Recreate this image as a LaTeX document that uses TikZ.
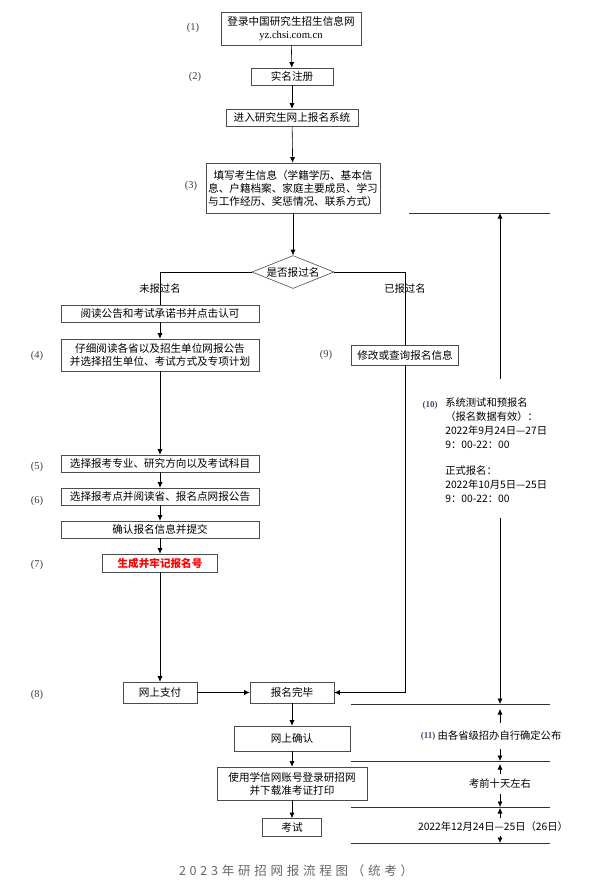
\documentclass[tikz,border=0pt]{standalone}
\usepackage{fontspec}
\setmainfont{Noto Sans CJK SC}
\newfontfamily\numfont{Liberation Serif}
\newfontfamily\capfont[LetterSpace=30]{Noto Sans CJK SC}
\usetikzlibrary{shapes.geometric, arrows.meta}

\definecolor{numgray}{HTML}{404040}
\definecolor{numblue}{HTML}{3A4A6B}

\begin{document}
\begin{tikzpicture}[x=1pt, y=-1pt, line width=0.6pt, >={Latex[length=5.5pt,width=5pt]},
  box/.style={draw=black!70, minimum height=17pt, inner sep=0pt, align=center, font=\fontsize{10.6}{13}\selectfont},
  num/.style={font=\numfont\fontsize{10.5}{12}\selectfont, text=numgray},
  note/.style={inner sep=0pt, font=\fontsize{10.3}{14}\selectfont}]

\useasboundingbox (0,0) rectangle (593,888);

\node[box, minimum width=140pt, minimum height=33pt] (login) at (291,28.5) {登录中国研究生招生信息网\\{\numfont yz.chsi.com.cn}};
\node[box, minimum width=82pt] (realname) at (292,76.5) {实名注册};
\node[box, minimum width=132pt] (system) at (292,117.5) {进入研究生网上报名系统};
\node[box, minimum width=174pt, minimum height=50pt] (info) at (293,188) {填写考生信息（学籍学历、基本信\\息、户籍档案、家庭主要成员、学习\\与工作经历、奖惩情况、联系方式）};

\node[draw=black!70, diamond, aspect=2.5, minimum width=82pt, minimum height=33pt, inner sep=0pt, font=\fontsize{10.6}{13}\selectfont] (applied) at (293,272) {是否报过名};

%left branch
\node[box, minimum width=198pt] (notice) at (160,313.5) {阅读公告和考试承诺书并点击认可};
\node[box, minimum width=198pt, minimum height=32pt] (unit) at (160,355) {仔细阅读各省以及招生单位网报公告\\并选择招生单位、考试方式及专项计划};
\node[box, minimum width=198pt] (major) at (160,463.5) {选择报考专业、研究方向以及考试科目};
\node[box, minimum width=198pt] (site) at (160,496.5) {选择报考点并阅读省、报名点网报公告};
\node[box, minimum width=198pt] (submit) at (160,529.5) {确认报名信息并提交};
\node[box, minimum width=115pt, minimum height=18pt, text=red, font=\fontsize{10.6}{13}\selectfont\bfseries] (regno) at (160,563) {生成并牢记报名号};

%right branch
\node[box, minimum width=107pt, minimum height=20pt] (modify) at (405,355) {修改或查询报名信息};

\node[box, minimum width=74pt, minimum height=21pt] (pay) at (160,692.5) {网上支付};
\node[box, minimum width=84pt, minimum height=21pt] (done) at (292,692.5) {报名完毕};
\node[box, minimum width=116pt, minimum height=25pt] (confirm) at (292,738.5) {网上确认};
\node[box, minimum width=150pt, minimum height=33pt] (ticket) at (292,783.5) {使用学信网账号登录研招网\\并下载准考证打印};
\node[box, minimum width=59pt, minimum height=18pt] (exam) at (292,827.5) {考试};

%step numbers
\node[num] (n1) at (193,28) {(1)};
\node[num] (n2) at (195,77) {(2)};
\node[num] (n3) at (191,186) {(3)};
\node[num] (n4) at (37,356) {(4)};
\node[num] (n5) at (37,467) {(5)};
\node[num] (n6) at (37,501) {(6)};
\node[num] (n7) at (37,565) {(7)};
\node[num] (n8) at (37,695) {(8)};
\node[num] (n9) at (326,355) {(9)};

\draw[->] (login) -- (realname);
\draw[->] (realname) -- (system);
\draw[->] (system) -- (info);
\draw[->] (info) -- (applied);

\draw (applied.west) -| (notice.north);
\draw (applied.east) -| (modify.north);
\node[note] (no) at (160,289) {未报过名};
\node[note] (yes) at (405,289) {已报过名};

\draw[->] (notice) -- (unit);
\draw[->] (unit) -- (major);
\draw[->] (major) -- (site);
\draw[->] (site) -- (submit);
\draw[->] (submit) -- (regno);
\draw[->] (regno) -- (pay);
\draw[->] (pay) -- (done);
\draw[->] (modify.south) |- (done.east);
\draw[->] (done) -- (confirm);
\draw[->] (confirm) -- (ticket);
\draw[->] (ticket) -- (exam);

%set anchor points for the time line
\coordinate (L0) at (500,213);
\coordinate (L1) at (500,704);
\coordinate (L2) at (500,761);
\coordinate (L3) at (500,807);
\coordinate (L4) at (500,843);
\coordinate (gapA) at (500,379);
\coordinate (gapB) at (500,518);

\draw[black!80] (409,213) -- (550,213);
\foreach \y in {704,761,807,843}
  \draw[black!80] (351,\y) -- (550,\y);

\node[num, text=numblue, font=\numfont\fontsize{9}{10}\selectfont\bfseries] (n10) at (430,405) {(10)};
\node[note, align=left, anchor=north west] (window) at (445,398) {系统测试和预报名\\（报名数据有效）：\\2022年9月24日—27日\\9：00-22：00\\[12pt]正式报名：\\2022年10月5日—25日\\9：00-22：00};
\draw[->] (gapA) -- (L0);
\draw[->] (gapB) -- (L1);

\node[num, text=numblue, font=\numfont\fontsize{9}{10}\selectfont\bfseries] (n11) at (428,736) {(11)};
\node[note, minimum height=26pt] (t11) at (499.5,736) {由各省级招办自行确定公布};
\node[note, minimum height=20pt] (t12) at (500,784) {考前十天左右};
\node[note, minimum height=18pt] (t13) at (493,827) {2022年12月24日—25日（26日）};

\draw[->, shorten >=5pt] (t11.north -| L1) -- (L1);
\draw[->] (t11.south -| L2) -- (L2);
\draw[->, shorten >=3pt] (t12.north) -- (L2);
\draw[->] (t12.south) -- (L3);
\draw[->, shorten >=1pt] (t13.north -| L3) -- (L3);
\draw[->] (t13.south -| L4) -- (L4);

\node[font=\capfont\fontsize{12.5}{14}\selectfont, text=black!60] (caption) at (296,871) {2023年研招网报流程图（统考）};
\end{tikzpicture}
\end{document}
